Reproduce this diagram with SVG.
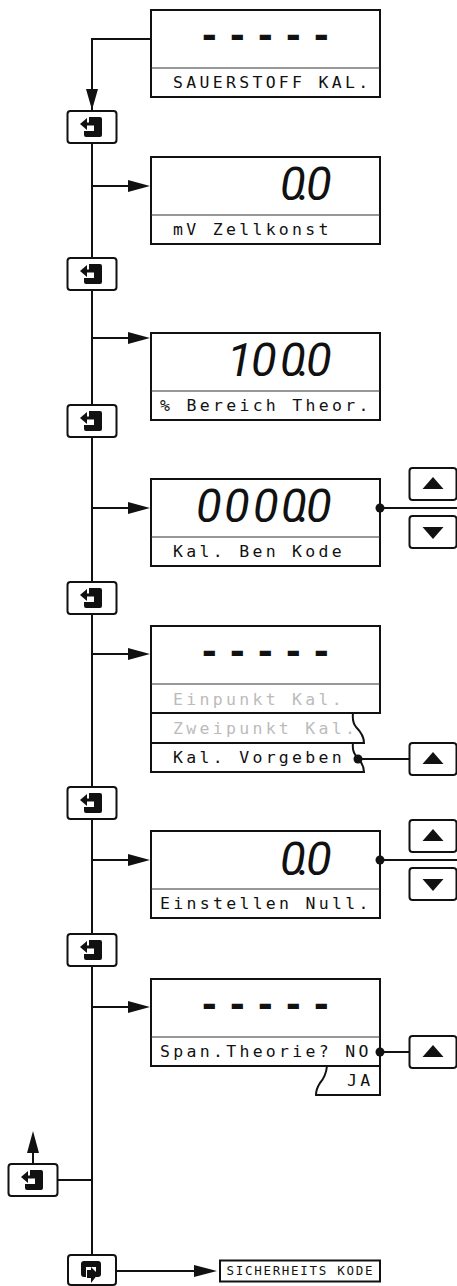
<svg xmlns="http://www.w3.org/2000/svg" width="457" height="1286" viewBox="0 0 457 1286">
<style>
.box{fill:#fff;stroke:#111;stroke-width:2}
.sep{stroke:#333;stroke-width:1.2;fill:none}
.ln{stroke:#111;stroke-width:2;fill:none}
.lbl{font-family:"DejaVu Sans Mono","Liberation Mono",monospace;font-size:16.5px;letter-spacing:3.3px;fill:#111}
.grey{fill:#bbb}
.btn{fill:#fff;stroke:#111;stroke-width:2}
.seg{font-family:Roboto,"Liberation Sans",sans-serif;font-style:italic;font-weight:400;font-size:47px;fill:#111}
.dash{font-family:"Liberation Sans",sans-serif;font-weight:700;font-size:44px;fill:#111}
</style>
<defs>
<g id="enter"><rect x="-24.500" y="-16" width="49" height="32" rx="3" class="btn"/>
<path d="M-6-10H8Q10-10 10-8V8Q10 10 8 10H-6Q-8 10-8 8V4H2V-4H-3V-10Z" fill="#111"/><path d="M-12-3L-5-9V3Z" fill="#111"/><path d="M-6-3H2" stroke="#111" stroke-width="3"/></g>
<g id="up"><rect x="-23.500" y="-16" width="47" height="32" rx="3" class="btn"/><path d="M-10.500 5H10.500L0-7Z" fill="#111"/></g>
<g id="down"><rect x="-23.500" y="-16" width="47" height="32" rx="3" class="btn"/><path d="M-10.500-5H10.500L0 7Z" fill="#111"/></g>
</defs>
<g id="n1"><rect class="box" x="151" y="10" width="229" height="87"/><path class="sep" d="M151 68H380"/><text class="dash" x="202 230 258 286 314" y="49">-----</text><text class="lbl" x="173" y="88">SAUERSTOFF KAL.</text></g>
<g id="n2"><rect class="box" x="151" y="157" width="229" height="87"/><path class="sep" d="M151 215H380"/><text class="seg" x="280 298 306" y="200">0.0</text><text class="lbl" x="173" y="235">mV Zellkonst</text></g>
<g id="n3"><rect class="box" x="151" y="333" width="229" height="87"/><path class="sep" d="M151 391H380"/><text class="seg" x="227 251 280 298 306" y="376">100.0</text><text class="lbl" x="160" y="411">% Bereich Theor.</text></g>
<g id="n4"><rect class="box" x="151" y="479" width="229" height="87"/><path class="sep" d="M151 537H380"/><text class="seg" x="196 224 253 281 298 306" y="522">0000.0</text><text class="lbl" x="173" y="557">Kal. Ben Kode</text></g>
<g id="n5"><path class="box" d="M151 743H353Q352 751 356 756Q364 764 364 772H151Z"/><path class="box" d="M151 713H353Q352 722 356 727Q364 735 364 743H151Z"/><rect class="box" x="151" y="626" width="229" height="87"/><path class="sep" d="M151 684H380"/><text class="dash" x="202 230 258 286 314" y="665">-----</text><text class="lbl grey" x="173" y="705">Einpunkt Kal.</text><text class="lbl grey" x="173" y="734">Zweipunkt Kal.</text><text class="lbl" x="173" y="763">Kal. Vorgeben</text></g>
<g id="n6"><rect class="box" x="151" y="831" width="229" height="87"/><path class="sep" d="M151 889H380"/><text class="seg" x="280 298 306" y="875">0.0</text><text class="lbl" x="160" y="909">Einstellen Null.</text></g>
<g id="n7"><path class="box" d="M327 1066Q326 1076 320 1083Q316 1089 316 1095H380V1066Z"/><rect class="box" x="151" y="979" width="229" height="87"/><path class="sep" d="M151 1037H380"/><text class="dash" x="202 230 258 286 314" y="1018">-----</text><text class="lbl" x="160" y="1057">Span.Theorie? NO</text><text class="lbl" x="347" y="1086">JA</text></g>
<g id="connectors">
<path class="ln" d="M150 39H92V1256"/>
<path class="ln" d="M92 186H130M92 338H130M92 508H130M92 654H130M92 860H130M92 1007H130M92 1180H58M33 1164V1150M116 1271H196"/>
<path class="ln" d="M380 508H457M358 759H411M380 860H457M380 1052H411"/>
<path fill="#111" d="M86 89H98L92 110ZM128 180V192L150 186ZM128 332V344L150 338ZM128 502V514L150 508ZM128 648V660L150 654ZM128 854V866L150 860ZM128 1001V1013L150 1007ZM27 1153H39L33 1131ZM194 1265V1277L217 1271Z"/>
<circle cx="380" cy="508" r="4.500" fill="#111"/><circle cx="358" cy="759" r="4.500" fill="#111"/><circle cx="380" cy="860" r="4.500" fill="#111"/><circle cx="380" cy="1052" r="4.500" fill="#111"/>
</g>
<g id="b1"><use href="#enter" x="92" y="127"/></g>
<g id="b2"><use href="#enter" x="92" y="274"/></g>
<g id="b3"><use href="#enter" x="92" y="421"/></g>
<g id="b4"><use href="#enter" x="92" y="598"/></g>
<g id="b5"><use href="#enter" x="92" y="803"/></g>
<g id="b6"><use href="#enter" x="92" y="950"/></g>
<g id="b7"><use href="#enter" x="33" y="1180"/></g>
<g id="b8"><rect x="68" y="1255" width="48" height="30" rx="3" class="btn"/><path d="M84 1261H98Q101 1261 101 1264V1274Q101 1277 98 1277H96V1267H86V1277H84Q81 1277 81 1274V1264Q81 1261 84 1261Z" fill="#111"/><path d="M87 1270H91V1267L98 1274L91 1283V1278H87Z" fill="#111"/></g>
<g id="u1"><use href="#up" x="433" y="484"/><use href="#down" x="433" y="532"/></g>
<g id="u2"><use href="#up" x="433" y="759"/></g>
<g id="u3"><use href="#up" x="433" y="836"/><use href="#down" x="433" y="884"/></g>
<g id="u4"><use href="#up" x="433" y="1052"/></g>
<g id="sk"><rect class="box" x="220" y="1260.500" width="160" height="21"/><text x="226.500" y="1274.500" font-family="DejaVu Sans Mono,Liberation Mono,monospace" font-size="12.500" letter-spacing="1.700" fill="#111">SICHERHEITS KODE</text></g>
</svg>
